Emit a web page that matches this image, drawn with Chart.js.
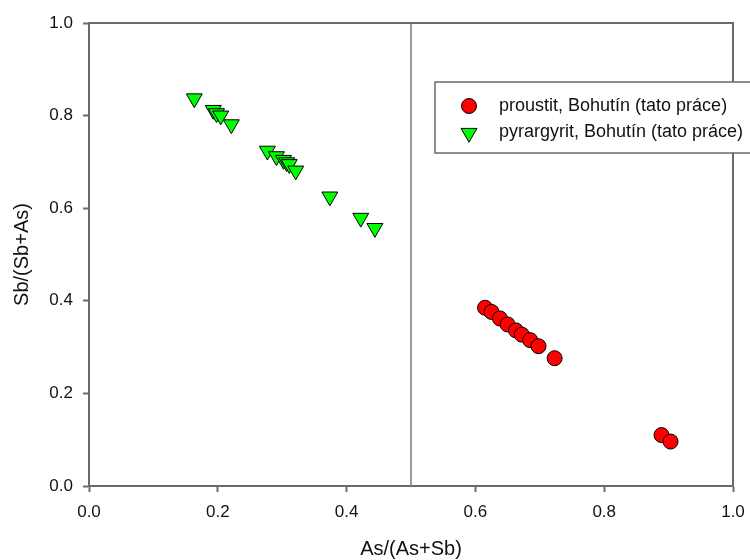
<!DOCTYPE html>
<html>
<head>
<meta charset="utf-8">
<script src="https://cdn.jsdelivr.net/npm/chart.js@4"></script>
<style>
  html, body { margin: 0; padding: 0; background: #fff; }
  #wrap { width: 750px; height: 560px; }
</style>
</head>
<body>
<div id="wrap"><canvas id="myChart" width="750" height="560"></canvas></div>
<script>
// As/(As+Sb) vs Sb/(Sb+As)
const proustitX = [0.615, 0.625, 0.638, 0.650, 0.663, 0.672, 0.685, 0.698, 0.723, 0.889, 0.903]
const proustitY = [0.385, 0.376, 0.362, 0.349, 0.336, 0.327, 0.315, 0.302, 0.276, 0.110, 0.096]

const pyrargyritX = [0.1635, 0.193, 0.198, 0.2045, 0.221, 0.277, 0.291, 0.302, 0.307, 0.311, 0.321, 0.374, 0.422, 0.444]
const pyrargyritY = [0.837, 0.812, 0.805, 0.800, 0.781, 0.724, 0.712, 0.704, 0.699, 0.695, 0.681, 0.625, 0.579, 0.557]

const seriesNames = ["proustit, Bohutín (tato práce)", "pyrargyrit, Bohutín (tato práce)"]
const tickValues = [0, 0.2, 0.4, 0.6, 0.8, 1.0]
const divider = 0.5

const axisGray = '#6a6a6a'
const font = 'Liberation Sans, Arial, sans-serif'

function toPoints(xs, ys) {
    return xs.map((x, i) => ({ x: x, y: ys[i] }))
}

// frame, x = 0.5 line and the boxed legend
const extras = {
    id: 'extras',
    beforeDatasetsDraw(chart) {
        const { ctx, chartArea, scales } = chart
        ctx.save()
        const xp = scales.x.getPixelForValue(divider)
        ctx.strokeStyle = '#7a7a7a'
        ctx.lineWidth = 1.5
        ctx.beginPath()
        ctx.moveTo(xp, chartArea.top)
        ctx.lineTo(xp, chartArea.bottom)
        ctx.stroke()
        ctx.restore()
    },
    afterDraw(chart) {
        const { ctx, chartArea } = chart
        ctx.save()
        ctx.strokeStyle = axisGray
        ctx.lineWidth = 2
        ctx.beginPath()
        ctx.moveTo(chartArea.left, chartArea.top)
        ctx.lineTo(chartArea.right, chartArea.top)
        ctx.lineTo(chartArea.right, chartArea.bottom)
        ctx.stroke()

        // legend box
        const bx = 435, by = 82, bw = 340, bh = 71
        ctx.fillStyle = '#fff'
        ctx.fillRect(bx, by, bw, bh)
        ctx.lineWidth = 1.5
        ctx.strokeRect(bx, by, bw, bh)

        ctx.font = '18px ' + font
        ctx.textBaseline = 'middle'
        chart.data.datasets.forEach((ds, i) => {
            const y = 106 + i * 26
            ctx.fillStyle = ds.backgroundColor
            ctx.strokeStyle = ds.borderColor
            ctx.lineWidth = 1
            Chart.helpers.drawPoint(ctx, {
                pointStyle: ds.pointStyle,
                radius: ds.pointRadius,
                rotation: ds.rotation,
                borderWidth: 1
            }, 469, y + (ds.pointStyle === 'triangle' ? 1 : 0))
            ctx.fillStyle = '#111'
            ctx.fillText(ds.label, 499, y)
        })
        ctx.restore()
    }
}

new Chart(document.getElementById('myChart'), {
    type: 'scatter',
    data: {
        datasets: [{
            label: seriesNames[0],
            data: toPoints(proustitX, proustitY),
            pointStyle: 'circle',
            pointRadius: 7.5,
            backgroundColor: '#ff0000',
            borderColor: '#000',
            borderWidth: 1
        }, {
            label: seriesNames[1],
            data: toPoints(pyrargyritX, pyrargyritY),
            pointStyle: 'triangle',
            pointRadius: 9.2,
            rotation: 180,
            backgroundColor: '#00ff00',
            borderColor: '#000',
            borderWidth: 1
        }]
    },
    options: {
        responsive: false,
        animation: false,
        layout: { padding: { top: 23, right: 17, left: 0, bottom: 0 } },
        plugins: {
            legend: { display: false },
            tooltip: { enabled: false }
        },
        scales: {
            x: {
                type: 'linear',
                min: 0,
                max: 1,
                afterFit: (s) => { s.height = 74; s.paddingLeft = 0; s.paddingRight = 0 },
                afterBuildTicks: (s) => { s.ticks = tickValues.map(v => ({ value: v })) },
                border: { color: axisGray, width: 2 },
                grid: { drawOnChartArea: false, drawTicks: true, tickLength: 6, tickWidth: 2, tickColor: axisGray },
                ticks: {
                    padding: 10,
                    color: '#111',
                    font: { family: font, size: 17 },
                    maxRotation: 0,
                    callback: (v) => v.toFixed(1)
                },
                title: {
                    display: true,
                    text: 'As/(As+Sb)',
                    color: '#111',
                    font: { family: font, size: 20, lineHeight: 1 },
                    padding: { top: 0, bottom: 1 }
                }
            },
            y: {
                type: 'linear',
                min: 0,
                max: 1,
                afterFit: (s) => { s.width = 89; s.paddingTop = 0; s.paddingBottom = 0 },
                afterBuildTicks: (s) => { s.ticks = tickValues.map(v => ({ value: v })) },
                border: { color: axisGray, width: 2 },
                grid: { drawOnChartArea: false, drawTicks: true, tickLength: 6, tickWidth: 2, tickColor: axisGray },
                ticks: {
                    padding: 10,
                    color: '#111',
                    font: { family: font, size: 17 },
                    callback: (v) => v.toFixed(1)
                },
                title: {
                    display: true,
                    text: 'Sb/(Sb+As)',
                    color: '#111',
                    font: { family: font, size: 20, lineHeight: 1 },
                    padding: { top: 12, bottom: 0 }
                }
            }
        }
    },
    plugins: [extras]
});
</script>
</body>
</html>
